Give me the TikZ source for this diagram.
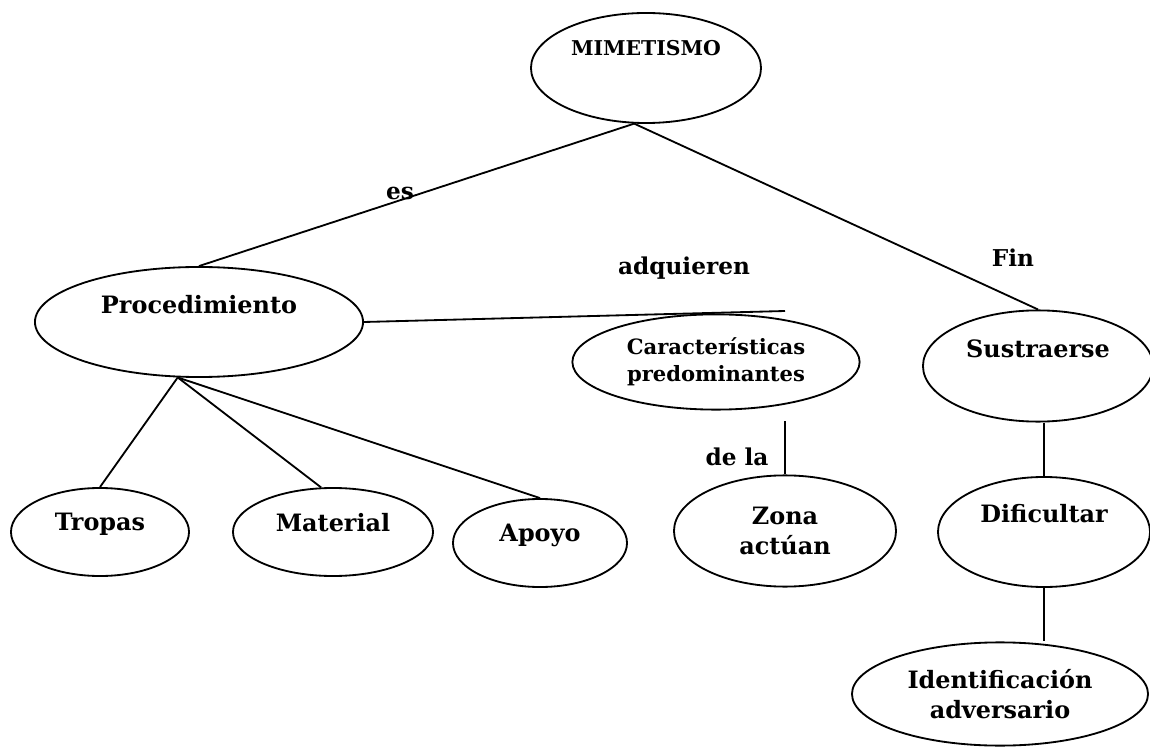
\documentclass[tikz,border=0pt]{standalone}
\usepackage{fontspec}
\setmainfont{DejaVu Serif}
\usetikzlibrary{shapes.geometric}

\tikzset{
  concept/.style={draw, ellipse, line width=1.3pt, inner sep=0pt, align=center,
    font=\fontsize{17}{21}\selectfont\bfseries},
  link/.style={line width=1.3pt},
  tag/.style={inner sep=0pt, font=\fontsize{16.5}{21}\selectfont\bfseries}
}

\begin{document}
\begin{tikzpicture}[x=0.025cm, y=-0.025cm]
            \useasboundingbox (0,0) rectangle (1150,747);

            \node[concept, minimum width=5.75cm, minimum height=2.75cm, text depth=28pt,
              font=\fontsize{14.5}{18}\selectfont\bfseries] (mim) at (646,68) {MIMETISMO};
            \node[concept, minimum width=8.2cm, minimum height=2.75cm, text depth=25pt] (proc) at (199,322) {Procedimiento};
            \node[concept, minimum width=7.18cm, minimum height=2.38cm,
              font=\fontsize{15}{19}\selectfont\bfseries] (carac) at (716,362) {Características\\predominantes};
            \node[concept, minimum width=5.75cm, minimum height=2.78cm, text depth=25pt] (sust) at (1038,366) {Sustraerse};
            \node[concept, minimum width=5.3cm, minimum height=2.75cm, text depth=27pt] (dif) at (1044,532) {Dificultar};
            \node[concept, minimum width=7.4cm, minimum height=2.58cm] (ident) at (1000,694) {Identificación\\adversario};
            \node[concept, minimum width=4.45cm, minimum height=2.2cm, text depth=14pt] (tropas) at (100,532) {Tropas};
            \node[concept, minimum width=5cm, minimum height=2.2cm, text depth=14pt] (material) at (333,532) {Material};
            \node[concept, minimum width=4.35cm, minimum height=2.2cm, text depth=14pt] (apoyo) at (540,543) {Apoyo};
            \node[concept, minimum width=5.55cm, minimum height=2.78cm] (zona) at (785,531) {Zona\\actúan};

            \coordinate (cend) at (785,311);
            \coordinate (zend) at (785,421);

            \node[tag] (es) at (400,193) {es};
            \node[tag] (adq) at (684,268) {adquieren};
            \node[tag] (fin) at (1013,258) {Fin};
            \node[tag] (dela) at (737,457) {de la};

            \draw[link] (mim.258) -- (proc.north);
            \draw[link] (mim.258) -- (sust.north);
            \draw[link] (proc.249) -- (tropas.north);
            \draw[link] (proc.249) -- (material.105);
            \draw[link] (proc.249) -- (apoyo.north);
            \draw[link] (proc.east) -- (cend);
            \draw[link] (zend) -- (zona.north);
            \draw[link] (sust.south -| dif.north) -- (dif.north);
            \draw[link] (dif.south) -- (dif.south |- ident.north);
        \end{tikzpicture}
\end{document}
